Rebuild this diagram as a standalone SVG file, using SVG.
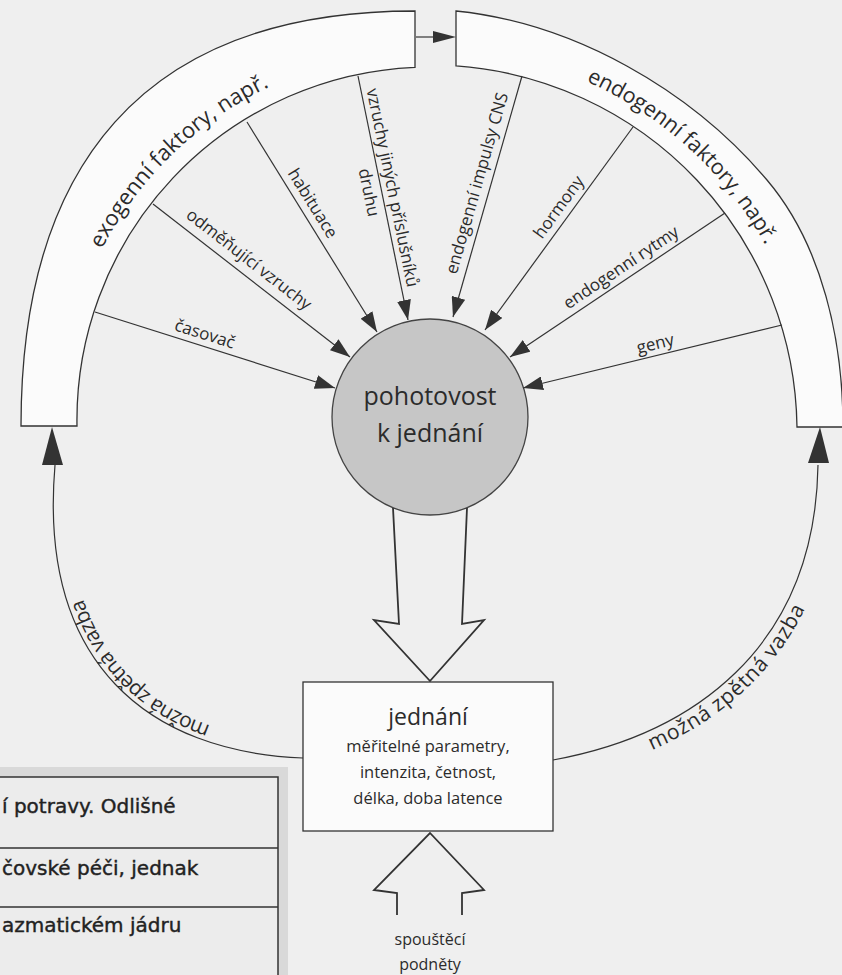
<svg xmlns="http://www.w3.org/2000/svg" width="842" height="975" viewBox="0 0 842 975">
<defs>
<style>
.ln{stroke:#333;stroke-width:1.3;fill:none}
.sp{stroke:#333;stroke-width:1.2;fill:none}
.band{fill:#fbfbfb;stroke:#333;stroke-width:1.3}
.t{font-family:"Open Sans","DejaVu Sans",sans-serif;fill:#2b2b2b}
.lab{font-size:17px;text-anchor:middle}
.big{font-size:22px}
.hol{fill:none;stroke:#333;stroke-width:1.8;stroke-linejoin:miter}
.tb{font-family:"DejaVu Sans",sans-serif;font-size:20px;fill:#222;stroke:#222;stroke-width:0.4}
</style>
<marker id="ah" markerWidth="20" markerHeight="14" refX="20" refY="7" orient="auto" markerUnits="userSpaceOnUse">
<path d="M0,0 L20,7 L0,14 Z" fill="#333"/>
</marker>
<path id="pExo" d="M101.8,249.2 A370,370 0 0 1 397.8,51.4"/>
<path id="pEndo" d="M586.2,81.2 A384,384 0 0 1 808.2,365.3"/>
<path id="fbL" d="M303,758 C150,752 38,665 55,465"/>
<path id="fbR" d="M553,760 C690,735 815,650 818,465"/>
</defs>
<rect width="842" height="975" fill="#efefef"/>

<g id="table">
<rect x="0" y="767" width="288" height="208" fill="#d9d9d9"/>
<rect x="-2" y="777" width="280" height="200" fill="#ececec" stroke="#333" stroke-width="1.5"/>
<line x1="0" y1="848" x2="278" y2="848" stroke="#333" stroke-width="1.3"/>
<line x1="0" y1="907" x2="278" y2="907" stroke="#333" stroke-width="1.3"/>
<text class="tb" x="2" y="813">í potravy. Odlišné</text>
<text class="tb" x="2" y="875">čovské péči, jednak</text>
<text class="tb" x="2" y="932">azmatickém jádru</text>
</g>

<g id="exogenni">
<path class="band" d="M415,11 C140,11 21,169 21,426 L77,426 A353,353 0 0 1 415,67.3 Z"/>
<text class="t big"><textPath href="#pExo">exogenní faktory, např.</textPath></text>
</g>

<g id="endogenni">
<path class="band" d="M456,11 C574,23 691,90 767,180 C822.6,245.6 843,341 843,427 L797,427 A367,367 0 0 0 456,65.9 Z"/>
<text class="t" font-size="21.5"><textPath href="#pEndo">endogenní faktory, např.</textPath></text>
</g>

<g id="pohotovost">
<circle cx="430" cy="417" r="98" fill="#c6c6c6" stroke="#444" stroke-width="1.3"/>
<text class="t" x="430" y="405" font-size="25" text-anchor="middle">pohotovost</text>
<text class="t" x="430" y="442" font-size="25" text-anchor="middle">k jednání</text>
</g>

<g id="jednani">
<rect x="303" y="682" width="250" height="149" fill="#fbfbfb" stroke="#333" stroke-width="1.3"/>
<text class="t" x="428" y="725" font-size="23" text-anchor="middle">jednání</text>
<text class="t" x="428" y="752" font-size="16.5" text-anchor="middle">měřitelné parametry,</text>
<text class="t" x="428" y="778" font-size="16.5" text-anchor="middle">intenzita, četnost,</text>
<text class="t" x="428" y="804" font-size="16.5" text-anchor="middle">délka, doba latence</text>
</g>

<g id="spoustece">
<text class="t" x="430" y="945" font-size="16" text-anchor="middle">spouštěcí</text>
<text class="t" x="430" y="970" font-size="16" text-anchor="middle">podněty</text>
</g>

<g id="connectors">
<line class="sp" x1="95" y1="312" x2="335" y2="388" marker-end="url(#ah)"/>
<line class="sp" x1="153" y1="204" x2="350" y2="357" marker-end="url(#ah)"/>
<line class="sp" x1="247" y1="122" x2="377" y2="332" marker-end="url(#ah)"/>
<line class="sp" x1="358" y1="76" x2="408" y2="320" marker-end="url(#ah)"/>
<line class="sp" x1="522" y1="76" x2="453" y2="317" marker-end="url(#ah)"/>
<line class="sp" x1="633" y1="127" x2="485" y2="330" marker-end="url(#ah)"/>
<line class="sp" x1="725" y1="213" x2="510" y2="357" marker-end="url(#ah)"/>
<line class="sp" x1="782" y1="325" x2="523" y2="388" marker-end="url(#ah)"/>

<line class="sp" x1="416" y1="37" x2="440" y2="37"/>
<path d="M433,31 L456,37 L433,43 Z" fill="#333"/>

<path class="sp" d="M303,758 C150,752 38,665 55,465"/>
<path d="M52,427 L42,465 L63,465 Z" fill="#333"/>
<path class="sp" d="M553,760 C690,735 815,650 818,465"/>
<path d="M820,427 L808,463 L829,463 Z" fill="#333"/>

<path class="hol" d="M393,508 L399,624 L374,620 L430,681 L484,620 L462,624 L467,508"/>
<path class="hol" d="M397,915 L397,893 L374,890 L430,833 L484,890 L462,893 L462,915"/>

<g class="t lab">
<text transform="translate(201,346) rotate(17.6)" y="-7">časovač</text>
<text transform="translate(240,271) rotate(37.8)" y="-9">odměňující vzruchy</text>
<text transform="translate(302,210) rotate(58.2)" y="-7">habituace</text>
<text transform="translate(381,190) rotate(78.4)" y="-6">vzruchy jiných příslušníků</text>
<text transform="translate(381,190) rotate(78.4)" y="18">druhu</text>
<text transform="translate(490,187) rotate(-74)" y="-8">endogenní impulsy CNS</text>
<text transform="translate(569,214.5) rotate(-53.9)" y="-7">hormony</text>
<text transform="translate(628,278) rotate(-33.8)" y="-7">endogenní rytmy</text>
<text transform="translate(658,355) rotate(-13.7)" y="-6">geny</text>
</g>
<text class="t" font-size="21"><textPath href="#fbL" startOffset="100"><tspan dy="16">možná zpětná vazba</tspan></textPath></text>
<text class="t" font-size="21"><textPath href="#fbR" startOffset="95"><tspan dy="19">možná zpětná vazba</tspan></textPath></text>
</g>
</svg>
